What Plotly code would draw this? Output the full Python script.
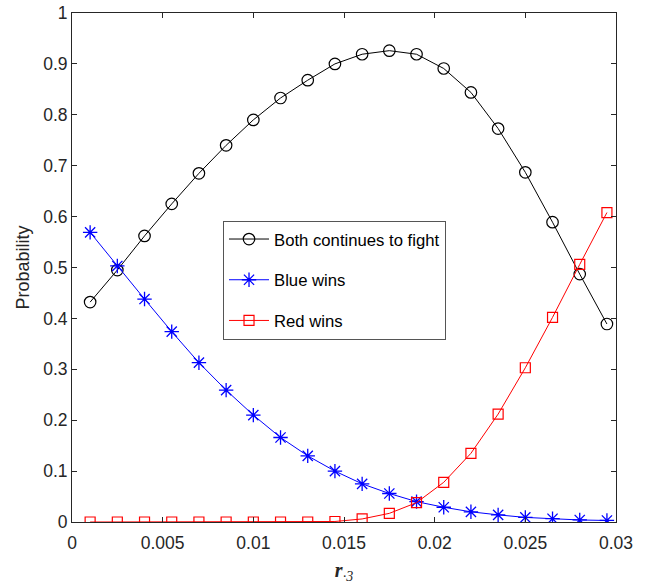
import plotly.graph_objects as go

x_vals = [0.001, 0.0025, 0.004, 0.0055, 0.007, 0.0085, 0.01, 0.0115, 0.013, 0.0145,
          0.016, 0.0175, 0.019, 0.0205, 0.022, 0.0235, 0.025, 0.0265, 0.028, 0.0295]
both_fight = [0.432, 0.495, 0.562, 0.625, 0.685, 0.740, 0.790, 0.833, 0.868, 0.900,
              0.919, 0.926, 0.919, 0.891, 0.844, 0.773, 0.687, 0.589, 0.487, 0.389]
blue_wins = [0.569, 0.503, 0.438, 0.374, 0.313, 0.259, 0.210, 0.166, 0.130, 0.100,
             0.075, 0.056, 0.040, 0.029, 0.020, 0.014, 0.009, 0.0065, 0.004, 0.003]
red_wins = [0.0, 0.0, 0.0, 0.0, 0.0, 0.0, 0.0, 0.0, 0.0, 0.001,
            0.006, 0.017, 0.038, 0.078, 0.135, 0.212, 0.303, 0.402, 0.506, 0.608]
names = ["Both continues to fight", "Blue wins", "Red wins"]
x_ticks = [0, 0.005, 0.01, 0.015, 0.02, 0.025, 0.03]
x_tick_text = ["0", "0.005", "0.01", "0.015", "0.02", "0.025", "0.03"]
y_ticks = [0, 0.1, 0.2, 0.3, 0.4, 0.5, 0.6, 0.7, 0.8, 0.9, 1]
y_tick_text = ["0", "0.1", "0.2", "0.3", "0.4", "0.5", "0.6", "0.7", "0.8", "0.9", "1"]

fig = go.Figure()
fig.add_trace(go.Scatter(x=x_vals, y=both_fight, name=names[0], mode="lines+markers",
                         legendgroup="a",
                         line=dict(color="black", width=1),
                         marker=dict(symbol="circle-open", size=11.5, color="black",
                                     line=dict(width=1.2, color="black"))))
fig.add_trace(go.Scatter(x=x_vals, y=blue_wins, name=names[1], mode="lines+markers",
                         legendgroup="b",
                         line=dict(color="blue", width=1),
                         marker=dict(symbol="asterisk-open", size=12, color="blue",
                                     line=dict(width=1.3, color="blue"))))
fig.add_trace(go.Scatter(x=x_vals, y=red_wins, name=names[2], mode="lines+markers",
                         legendgroup="c",
                         line=dict(color="red", width=1),
                         marker=dict(symbol="square-open", size=10, color="red",
                                     line=dict(width=1.2, color="red"))))

tick_font = dict(family="Liberation Sans, Arial", size=17.5, color="#262626")
axis_common = dict(showline=True, linecolor="#262626", linewidth=1, mirror="ticks",
                   ticks="inside", ticklen=5, tickcolor="#262626", showgrid=False,
                   zeroline=False, tickfont=tick_font, automargin=False)

fig.update_layout(
    width=648, height=587,
    margin=dict(l=72, r=32, t=13, b=65),
    paper_bgcolor="white", plot_bgcolor="white",
    showlegend=True,
    legend=dict(x=0.2776, y=0.592, xanchor="left", yanchor="top",
                bgcolor="white", bordercolor="#555555", borderwidth=1,
                font=dict(family="Liberation Sans, Arial", size=16.7, color="black"),
                traceorder="grouped", tracegroupgap=16, itemwidth=40),
    xaxis=dict(range=[0, 0.03], tickvals=x_ticks, ticktext=x_tick_text,
               ticklabelstandoff=5,
               title=dict(text="<b><i>r</i></b><sub><i>·3</i></sub>",
                          font=dict(family="Liberation Serif, Times New Roman", size=20,
                                    color="#262626"), standoff=10),
               **axis_common),
    yaxis=dict(range=[0, 1], tickvals=y_ticks, ticktext=y_tick_text,
               title=dict(text="Probability",
                          font=dict(family="Liberation Sans, Arial", size=18,
                                    color="#262626"), standoff=8),
               **axis_common),
)

fig.write_html("out.html")
